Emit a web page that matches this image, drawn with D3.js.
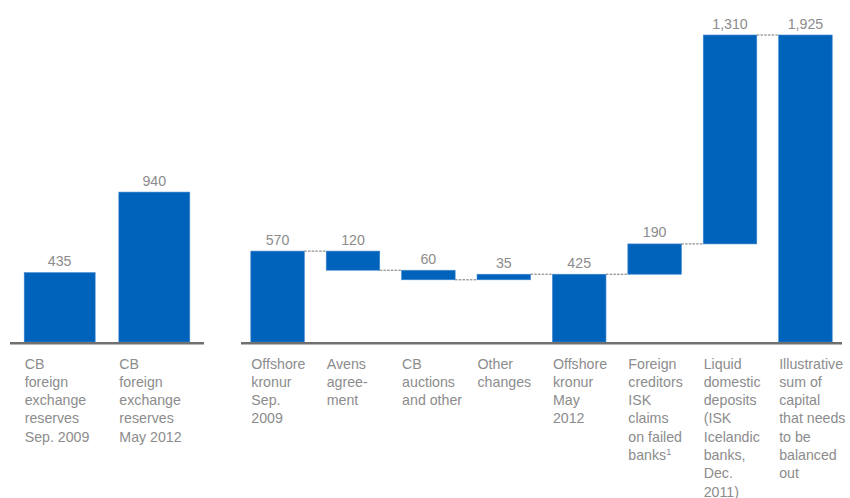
<!DOCTYPE html>
<html>
<head>
<meta charset="utf-8">
<script src="https://cdn.jsdelivr.net/npm/d3@7"></script>
<style>
  html, body { margin: 0; padding: 0; background: #fff; }
  svg { display: block; }
  text { font-family: "Liberation Sans", Arial, sans-serif; }
</style>
</head>
<body>
<svg id="chart" width="850" height="498"></svg>
<script>
// Central bank reserves (left panel)
const reserveCategories = [
  ["CB", "foreign", "exchange", "reserves", "Sep. 2009"],
  ["CB", "foreign", "exchange", "reserves", "May 2012"]
];
const reserveValues = [435, 940];

// Offshore kronur bridge (right panel)
const bridgeCategories = [
  ["Offshore", "kronur", "Sep.", "2009"],
  ["Avens", "agree-", "ment"],
  ["CB", "auctions", "and other"],
  ["Other", "changes"],
  ["Offshore", "kronur", "May", "2012"],
  ["Foreign", "creditors", "ISK", "claims", "on failed", "banks¹"],
  ["Liquid", "domestic", "deposits", "(ISK", "Icelandic", "banks,", "Dec.", "2011)"],
  ["Illustrative", "sum of", "capital", "that needs", "to be", "balanced", "out"]
];
const bridgeChanges = [570, -120, -60, 35, 425, 190, 1310, 1925];
const bridgeKinds = ["total", "step", "step", "step", "total", "step", "step", "total"];

const BLUE = "#0063BB";
const TEXT = "#8c8c8c";
const AXIS = "#707070";
const FONT = 14.2;

const svg = d3.select("#chart");
const fmt = d3.format(",");

const baseY = 342;
const y = d3.scaleLinear().domain([0, 1925]).range([baseY, 35]);

function categoryLabels(g, x, cats) {
  cats.forEach((lines, i) => {
    const t = g.append("text")
      .attr("x", x(i) + 0.5)
      .attr("y", 368.5)
      .attr("fill", TEXT)
      .attr("font-size", FONT);
    lines.forEach((ln, j) => {
      const sup = ln.endsWith("¹");
      t.append("tspan")
        .attr("x", x(i) + 0.5)
        .attr("dy", j === 0 ? 0 : 18.3)
        .text(sup ? ln.slice(0, -1) : ln);
      if (sup) {
        t.append("tspan")
          .attr("dy", -5)
          .attr("font-size", 9)
          .text("1");
      }
    });
  });
}

function axisLine(g, x0, x1) {
  g.append("line")
    .attr("x1", x0).attr("x2", x1)
    .attr("y1", baseY + 1.2).attr("y2", baseY + 1.2)
    .attr("stroke", AXIS)
    .attr("stroke-width", 2.6);
}

// ---- left panel ----
const xl = d3.scaleBand()
  .domain(d3.range(reserveValues.length))
  .range([10, 204])
  .paddingInner(0.25)
  .paddingOuter(0.15);

const gl = svg.append("g");
gl.selectAll("rect.bar")
  .data(reserveValues)
  .join("rect")
  .attr("class", "bar")
  .attr("x", (d, i) => xl(i))
  .attr("width", xl.bandwidth())
  .attr("y", d => y(d))
  .attr("height", d => baseY - y(d))
  .attr("fill", BLUE)
  .attr("stroke", "#3f87d2")
  .attr("stroke-width", 0.6);

gl.selectAll("text.val")
  .data(reserveValues)
  .join("text")
  .attr("class", "val")
  .attr("x", (d, i) => xl(i) + xl.bandwidth() / 2)
  .attr("y", d => y(d) - 6.5)
  .attr("text-anchor", "middle")
  .attr("fill", TEXT)
  .attr("font-size", FONT)
  .text(d => fmt(d));

axisLine(gl, 10, 204);
categoryLabels(gl, i => xl(i), reserveCategories);

// ---- right panel (waterfall) ----
const xr = d3.scaleBand()
  .domain(d3.range(bridgeChanges.length))
  .range([241, 842])
  .paddingInner(0.29)
  .paddingOuter(0.13);

let running = 0;
const segs = bridgeChanges.map((v, i) => {
  let lo, hi, end;
  if (bridgeKinds[i] === "total") {
    lo = 0; hi = v; end = v;
  } else {
    const start = running;
    end = start + v;
    lo = Math.min(start, end); hi = Math.max(start, end);
  }
  running = end;
  return { i, lo, hi, end, label: Math.abs(v) };
});

const gr = svg.append("g");

// dashed connectors between consecutive bars
gr.selectAll("line.conn")
  .data(segs.slice(0, -1))
  .join("line")
  .attr("class", "conn")
  .attr("x1", d => xr(d.i) + xr.bandwidth())
  .attr("x2", d => xr(d.i + 1))
  .attr("y1", d => y(d.end))
  .attr("y2", d => y(d.end))
  .attr("stroke", "#666")
  .attr("stroke-width", 0.9)
  .attr("stroke-dasharray", "2.5,1.2");

gr.selectAll("rect.bar")
  .data(segs)
  .join("rect")
  .attr("class", "bar")
  .attr("x", d => xr(d.i))
  .attr("width", xr.bandwidth())
  .attr("y", d => y(d.hi))
  .attr("height", d => y(d.lo) - y(d.hi))
  .attr("fill", BLUE)
  .attr("stroke", "#3f87d2")
  .attr("stroke-width", 0.6);

gr.selectAll("text.val")
  .data(segs)
  .join("text")
  .attr("class", "val")
  .attr("x", d => xr(d.i) + xr.bandwidth() / 2)
  .attr("y", d => y(d.hi) - 6.5)
  .attr("text-anchor", "middle")
  .attr("fill", TEXT)
  .attr("font-size", FONT)
  .text(d => fmt(d.label));

axisLine(gr, 241, 842);
categoryLabels(gr, i => xr(i), bridgeCategories);
</script>
</body>
</html>
